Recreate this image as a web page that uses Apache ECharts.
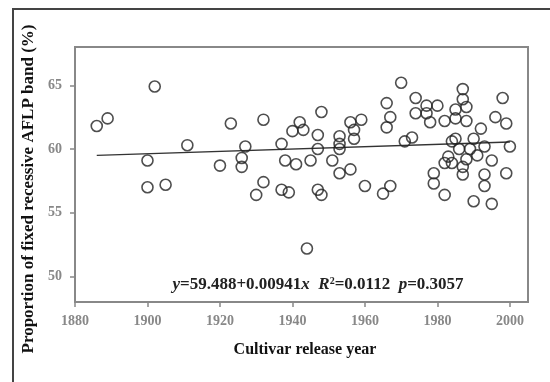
<!DOCTYPE html>
<html>
<head>
<meta charset="utf-8">
<script src="https://cdn.jsdelivr.net/npm/echarts@6/dist/echarts.min.js"></script>
<style>
  html, body { margin: 0; padding: 0; background: #fff; }
  #chart { width: 550px; height: 382px; }
</style>
</head>
<body>
<div id="chart"></div>
<script>
// release year / proportion of fixed recessive AFLP band (%)
var years = [1886, 1889, 1902, 1900, 1900, 1905, 1911, 1923, 1920, 1926, 1926, 1927, 1930,
  1932, 1932, 1937, 1938, 1941, 1937, 1939, 1940, 1942, 1943, 1945, 1947, 1947, 1948,
  1947, 1948, 1951, 1953, 1953, 1953, 1953, 1956, 1956, 1957, 1957, 1959, 1960, 1965,
  1967, 1966, 1967, 1966, 1970, 1971, 1973, 1974, 1974, 1977, 1977, 1978, 1980, 1982,
  1985, 1985, 1987, 1987, 1988, 1988, 1992, 1998, 1996, 1999, 2000, 1985, 1984, 1990,
  1986, 1989, 1993, 1991, 1988, 1983, 1982, 1984, 1987, 1987, 1979, 1979, 1982, 1995,
  1993, 1993, 1999, 1990, 1995, 1944];
var bandPct = [61.8, 62.4, 64.9, 59.1, 57.0, 57.2, 60.3, 62.0, 58.7, 59.3, 58.6, 60.2, 56.4,
  62.3, 57.4, 60.4, 59.1, 58.8, 56.8, 56.6, 61.4, 62.1, 61.5, 59.1, 61.1, 60.0, 62.9,
  56.8, 56.4, 59.1, 61.0, 60.4, 60.0, 58.1, 58.4, 62.1, 61.5, 60.8, 62.3, 57.1, 56.5,
  57.1, 63.6, 62.5, 61.7, 65.2, 60.6, 60.9, 64.0, 62.8, 63.4, 62.8, 62.1, 63.4, 62.2,
  63.1, 62.4, 64.7, 63.9, 63.3, 62.2, 61.6, 64.0, 62.5, 62.0, 60.2, 60.8, 60.6, 60.8,
  60.0, 60.0, 60.2, 59.5, 59.2, 59.4, 58.9, 58.9, 58.6, 58.0, 58.1, 57.3, 56.4, 59.1,
  58.0, 57.1, 58.1, 55.9, 55.7, 52.2];

// fitted line end points
var fitYears = [1886, 2000];
var fitPct = [59.5, 60.55];

var xTicks = [1880, 1900, 1920, 1940, 1960, 1980, 2000];
var yTicks = [50, 55, 60, 65];

var eqText = '{i|y}=59.488+0.00941{i|x}  {i|R}{s|2}=0.0112  {i|p}=0.3057';

var points = years.map(function (y, i) { return [y, bandPct[i]]; });
var fitLine = fitYears.map(function (y, i) { return [y, fitPct[i]]; });

var serif = '"Liberation Serif", "Times New Roman", serif';
var myChart = echarts.init(document.getElementById('chart'));
var option = {
  backgroundColor: '#fff',
  animation: false,
  grid: {
    left: 75, top: 47, right: 22, bottom: 80,
    show: true,
    borderColor: '#888',
    borderWidth: 2
  },
  xAxis: {
    type: 'value',
    min: 1880,
    max: 2005,
    axisLine: { lineStyle: { color: '#888', width: 2 } },
    axisTick: { customValues: xTicks, length: 5, lineStyle: { color: '#888', width: 1.5 } },
    axisLabel: {
      customValues: xTicks,
      formatter: function (v) { return String(v); },
      color: '#888',
      fontFamily: serif,
      fontWeight: 'bold',
      fontSize: 14,
      margin: 12
    },
    splitLine: { show: false }
  },
  yAxis: {
    type: 'value',
    min: 48,
    max: 68,
    axisLine: { show: true, lineStyle: { color: '#888', width: 2 } },
    axisTick: { show: true, customValues: yTicks, length: 5, lineStyle: { color: '#888', width: 1.5 } },
    axisLabel: {
      customValues: yTicks,
      color: '#888',
      fontFamily: serif,
      fontWeight: 'bold',
      fontSize: 14,
      margin: 13
    },
    splitLine: { show: false }
  },
  series: [
    {
      type: 'line',
      data: fitLine,
      symbol: 'none',
      lineStyle: { color: '#333', width: 1.5 },
      z: 1
    },
    {
      type: 'scatter',
      data: points,
      symbol: 'circle',
      symbolSize: 11,
      itemStyle: {
        color: 'rgba(255,255,255,0)',
        borderColor: '#222',
        borderWidth: 1.6
      },
      z: 2
    }
  ],
  graphic: [
    {
      type: 'polyline',
      shape: { points: [[13, 382], [13, 9], [550, 9]] },
      style: { stroke: '#444', lineWidth: 2, fill: null }
    },
    {
      type: 'text',
      x: 318, y: 285,
      style: {
        text: eqText,
        textAlign: 'center',
        textVerticalAlign: 'middle',
        font: 'bold 17px ' + serif,
        fill: '#222',
        rich: {
          i: { fontStyle: 'italic', fontWeight: 'bold', fontSize: 17, fontFamily: serif },
          s: { fontSize: 10, fontWeight: 'bold', fontFamily: serif, verticalAlign: 'top', padding: [0, 0, 7, 0] }
        }
      }
    },
    {
      type: 'text',
      x: 305, y: 350,
      style: {
        text: 'Cultivar release year',
        textAlign: 'center',
        textVerticalAlign: 'middle',
        font: 'bold 16px ' + serif,
        fill: '#111'
      }
    },
    {
      type: 'text',
      x: 29, y: 189,
      rotation: Math.PI / 2,
      style: {
        text: 'Proportion of fixed recessive AFLP band (%)',
        textAlign: 'center',
        textVerticalAlign: 'middle',
        font: 'bold 17px ' + serif,
        fill: '#111'
      }
    }
  ]
};
option && myChart.setOption(option);
</script>
</body>
</html>
